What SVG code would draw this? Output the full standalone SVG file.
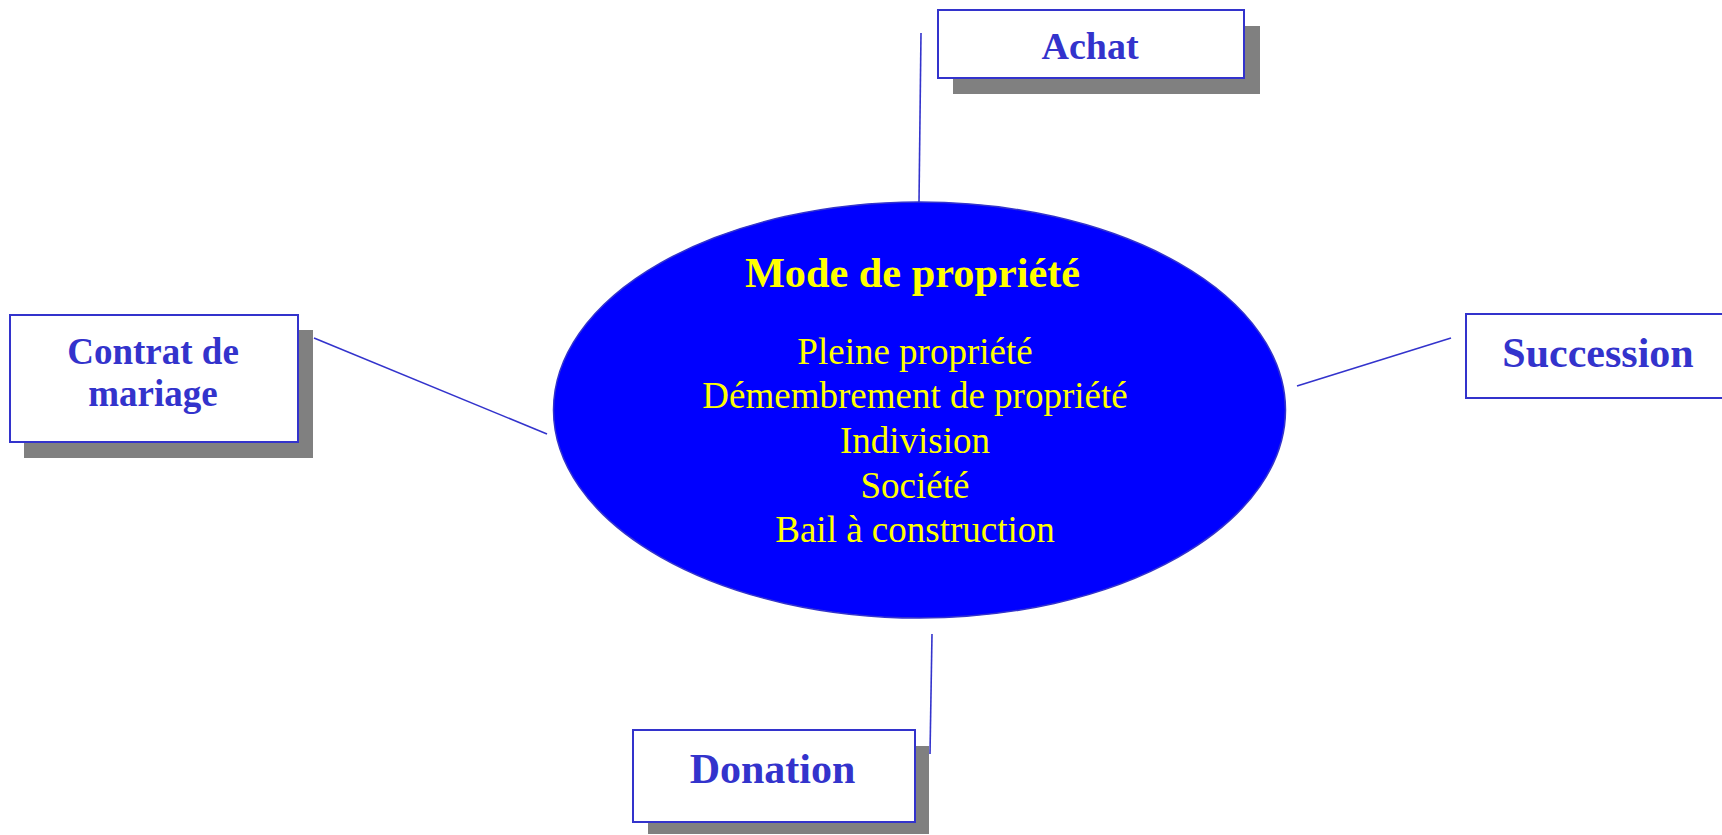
<svg xmlns="http://www.w3.org/2000/svg" width="1722" height="835" viewBox="0 0 1722 835">
<style>
.shadow{fill:#808080;}
.box{fill:#ffffff;stroke:#3333cc;stroke-width:2;}
.lbl{font-family:"Liberation Serif","Times New Roman",serif;font-weight:bold;fill:#3333cc;text-anchor:middle;}
.conn{stroke:#3333cc;stroke-width:1.6;fill:none;}
.ctr{font-family:"Liberation Serif","Times New Roman",serif;fill:#ffff00;text-anchor:middle;font-size:37px;}
.title{font-family:"Liberation Serif","Times New Roman",serif;fill:#ffff00;text-anchor:middle;font-size:42.3px;font-weight:bold;}
</style>
<rect width="1722" height="835" fill="#ffffff"/>
<g id="connectors">
<line class="conn" x1="921" y1="33" x2="919" y2="202"/>
<line class="conn" x1="314" y1="338" x2="547" y2="434"/>
<line class="conn" x1="1297" y1="386" x2="1451" y2="338"/>
<line class="conn" x1="932" y1="634" x2="930" y2="754"/>
</g>
<g id="center">
<ellipse cx="919.5" cy="410" rx="366" ry="208" fill="#0000ff" stroke="#3333cc" stroke-width="1.5"/>
<text class="title" x="912.5" y="286.7">Mode de propriété</text>
<text class="ctr" x="915" y="363.5">Pleine propriété</text>
<text class="ctr" x="915" y="408.2">Démembrement de propriété</text>
<text class="ctr" x="915" y="452.9">Indivision</text>
<text class="ctr" x="915" y="497.6">Société</text>
<text class="ctr" x="915" y="542.3">Bail à construction</text>
</g>
<g id="achat">
<rect class="shadow" x="953" y="26" width="307" height="68"/>
<rect class="box" x="938" y="10" width="306" height="68"/>
<text class="lbl" x="1090" y="59" font-size="38">Achat</text>
</g>
<g id="contrat">
<rect class="shadow" x="24" y="330" width="289" height="128"/>
<rect class="box" x="10" y="315" width="288" height="127"/>
<text class="lbl" x="153" y="363.5" font-size="37">Contrat de</text>
<text class="lbl" x="153" y="406" font-size="37">mariage</text>
</g>
<g id="succession">
<rect class="box" x="1466" y="314" width="264" height="84"/>
<text class="lbl" x="1598" y="367" font-size="42">Succession</text>
</g>
<g id="donation">
<rect class="shadow" x="648" y="746" width="281" height="88"/>
<rect class="box" x="633" y="730" width="282" height="92"/>
<text class="lbl" x="772.5" y="783" font-size="42">Donation</text>
</g>
</svg>
